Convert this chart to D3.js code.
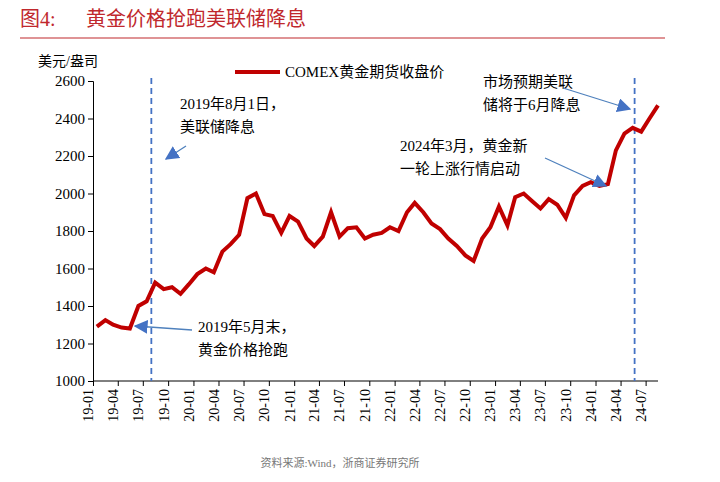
<!DOCTYPE html>
<html><head><meta charset="utf-8">
<script src="https://cdn.jsdelivr.net/npm/d3@7"></script>
<style>body{margin:0;background:#fff}text{font-family:"Liberation Serif","Noto Sans CJK SC",serif}</style>
</head><body>
<script>
// 月度收盘价(估读)
const months = ["2019-01","2019-02","2019-03","2019-04","2019-05","2019-06","2019-07","2019-08","2019-09","2019-10","2019-11","2019-12",
  "2020-01","2020-02","2020-03","2020-04","2020-05","2020-06","2020-07","2020-08","2020-09","2020-10","2020-11","2020-12",
  "2021-01","2021-02","2021-03","2021-04","2021-05","2021-06","2021-07","2021-08","2021-09","2021-10","2021-11","2021-12",
  "2022-01","2022-02","2022-03","2022-04","2022-05","2022-06","2022-07","2022-08","2022-09","2022-10","2022-11","2022-12",
  "2023-01","2023-02","2023-03","2023-04","2023-05","2023-06","2023-07","2023-08","2023-09","2023-10","2023-11","2023-12",
  "2024-01","2024-02","2024-03","2024-04","2024-05","2024-06","2024-07","2024-08"];
const prices = [1290,1325,1300,1285,1280,1400,1425,1525,1490,1500,1465,1515,
  1570,1600,1580,1690,1730,1780,1975,2000,1890,1880,1790,1880,
  1850,1760,1720,1770,1900,1770,1815,1820,1760,1780,1790,1820,
  1800,1900,1950,1900,1840,1810,1760,1720,1670,1640,1760,1820,
  1930,1830,1980,2000,1960,1920,1970,1940,1870,1990,2040,2060,
  2040,2050,2230,2320,2350,2330,2400,2470];
const yTicks = [1000,1200,1400,1600,1800,2000,2200,2400,2600];
const xTickLabels = ["19-01","19-04","19-07","19-10","20-01","20-04","20-07","20-10","21-01","21-04","21-07","21-10",
  "22-01","22-04","22-07","22-10","23-01","23-04","23-07","23-10","24-01","24-04","24-07"];
const cutDates = ["2019-08-01","2024-05-22"];

const parse = d3.timeParse("%Y-%m-%d");
const data = months.map((m,i)=>({d:parse(m+"-15"),v:prices[i]}));
const svg = d3.select("body").append("svg").attr("width",720).attr("height",482);
const x = d3.scaleTime().domain([parse("2019-01-01"),parse("2024-08-15")]).range([93,658]);
const y = d3.scaleLinear().domain([1000,2600]).range([381,81]);
const tickDates = xTickLabels.map(t=>parse("20"+t+"-01"));

svg.append("text").attr("x",20).attr("y",26).attr("fill","#c0282d").attr("font-size",20).text("图4:");
svg.append("text").attr("x",86).attr("y",26).attr("fill","#c0282d").attr("font-size",20).text("黄金价格抢跑美联储降息");
svg.append("line").attr("x1",20).attr("x2",665).attr("y1",38).attr("y2",38).attr("stroke","#c0282d").attr("stroke-width",1.2);

const gy = svg.append("g").attr("transform","translate(93,0)")
  .call(d3.axisLeft(y).tickValues(yTicks).tickSize(5).tickFormat(d3.format("d")));
gy.selectAll("text").attr("font-size",15).attr("fill","#000");
const gx = svg.append("g").attr("transform","translate(0,381)")
  .call(d3.axisBottom(x).tickValues(tickDates).tickSize(5).tickFormat((d,i)=>xTickLabels[i]));
gx.selectAll("text").attr("font-size",14).attr("fill","#000").attr("text-anchor","end")
  .attr("transform","rotate(-90)").attr("x",-8).attr("y",-5).attr("dy","0.35em");
gx.select(".domain").attr("d","M93,0H658");
svg.selectAll(".domain,.tick line").attr("stroke","#000");
svg.append("text").attr("x",38).attr("y",66).attr("font-size",14).text("美元/盎司");

svg.selectAll(".cut").data(cutDates).enter().append("line")
  .attr("x1",d=>x(parse(d))).attr("x2",d=>x(parse(d))).attr("y1",78).attr("y2",381)
  .attr("stroke","#4472c4").attr("stroke-width",1.8).attr("stroke-dasharray","6,4");

svg.append("path").datum(data).attr("fill","none").attr("stroke","#c00000").attr("stroke-width",4)
  .attr("d",d3.line().x(d=>x(d.d)).y(d=>y(d.v)));

svg.append("line").attr("x1",235).attr("x2",280).attr("y1",72).attr("y2",72).attr("stroke","#c00000").attr("stroke-width",4);
svg.append("text").attr("x",285).attr("y",77).attr("font-size",15).text("COMEX黄金期货收盘价");

const notes = [
  {lines:["2019年8月1日，","美联储降息"],x:180,y:109,a:[186,146,166,159]},
  {lines:["2019年5月末，","黄金价格抢跑"],x:198,y:332,a:[192,330,135,326]},
  {lines:["2024年3月，黄金新","一轮上涨行情启动"],x:400,y:151,a:[545,158,606,186]},
  {lines:["市场预期美联","储将于6月降息"],x:483,y:87,a:[563,88,630,109]}
];
svg.append("defs").append("marker").attr("id","ar").attr("viewBox","0 0 10 10").attr("refX",9).attr("refY",5)
  .attr("markerWidth",9).attr("markerHeight",9).attr("markerUnits","userSpaceOnUse").attr("orient","auto")
  .append("path").attr("d","M0,0L10,5L0,10z").attr("fill","#4472c4");
svg.select("marker").attr("markerWidth",14).attr("markerHeight",14);
notes.forEach(n=>{
  n.lines.forEach((t,i)=>svg.append("text").attr("x",n.x).attr("y",n.y+i*23).attr("font-size",15).text(t));
  svg.append("line").attr("x1",n.a[0]).attr("y1",n.a[1]).attr("x2",n.a[2]).attr("y2",n.a[3])
    .attr("stroke","#4f81bd").attr("stroke-width",1.3).attr("marker-end","url(#ar)");
});
svg.append("text").attr("x",340).attr("y",467).attr("text-anchor","middle").attr("font-size",11).attr("fill","#777").text("资料来源:Wind，浙商证券研究所");
</script>
</body></html>
